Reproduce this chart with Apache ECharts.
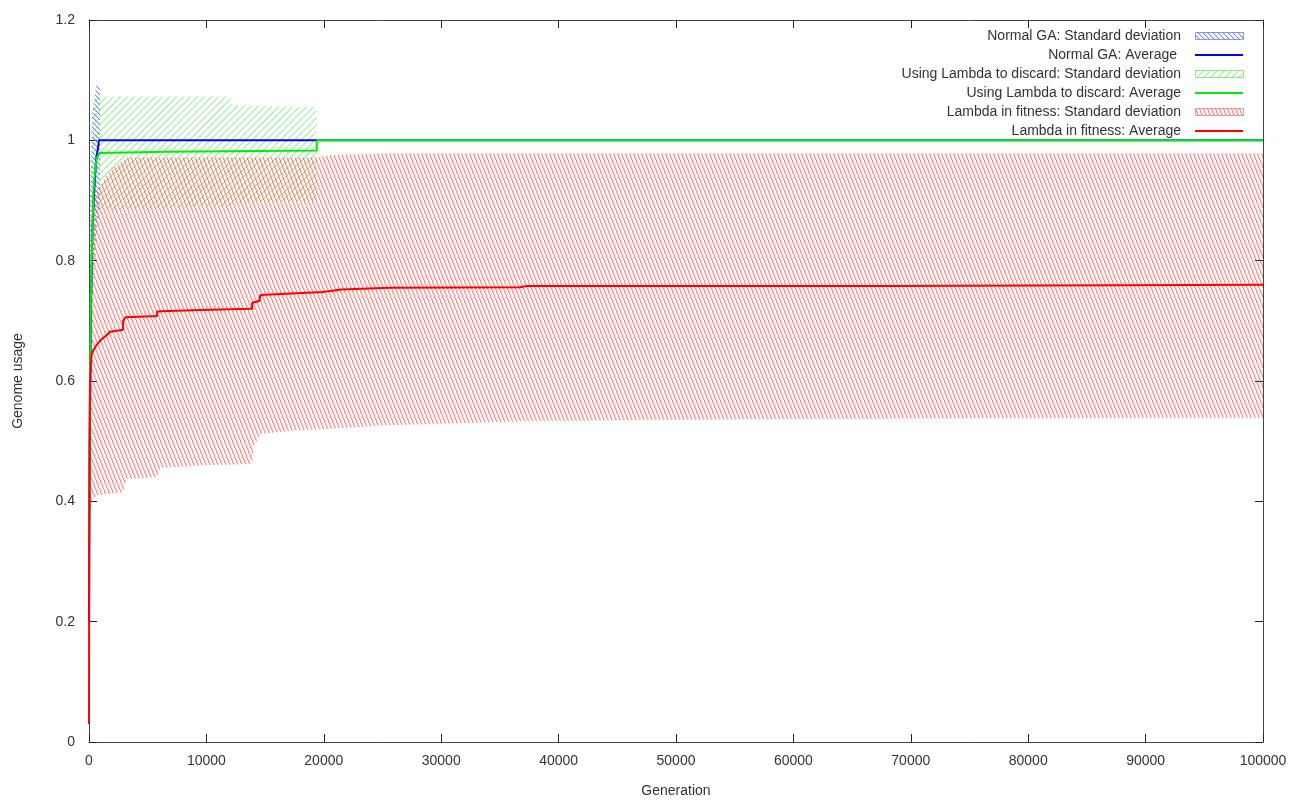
<!DOCTYPE html>
<html>
<head>
<meta charset="utf-8">
<style>
  html, body { margin: 0; padding: 0; background: #fff; }
  #chart { width: 1310px; height: 803px; }
</style>
<script src="https://cdn.jsdelivr.net/npm/echarts@6/dist/echarts.min.js"></script>
</head>
<body>
<div id="chart"></div>
<script>
// Genome usage per generation: averages and standard-deviation bands, [generation, value]
const normalAverage = [
  [0, 0.2], [50, 0.45], [150, 0.7], [300, 0.856], [400, 0.9], [600, 0.967],
  [750, 0.985], [850, 1.0], [100000, 1.0]
];
const normalStdUpper = [
  [0, 0.4], [100, 0.9], [300, 1.05], [650, 1.095], [950, 1.09]
];
const normalStdLower = [
  [0, 0.0], [100, 0.5], [300, 0.75], [600, 0.84], [950, 0.9]
];

const discardAverage = [
  [0, 0.34], [60, 0.55], [150, 0.72], [230, 0.8], [370, 0.91], [510, 0.95],
  [650, 0.97], [900, 0.979], [6500, 0.981], [12000, 0.982], [19400, 0.983],
  [19400, 1.0], [100000, 1.0]
];
const discardStdUpper = [
  [0, 0.5], [100, 0.95], [250, 1.045], [500, 1.07], [1000, 1.073],
  [12000, 1.073], [12200, 1.058], [19400, 1.055]
];
const discardStdLower = [
  [0, 0.2], [100, 0.45], [250, 0.6], [400, 0.75], [700, 0.85], [1000, 0.885],
  [12000, 0.89], [12200, 0.896], [19400, 0.9]
];

const fitnessAverage = [
  [0, 0.03], [20, 0.35], [50, 0.5], [85, 0.6], [150, 0.625], [230, 0.645],
  [400, 0.652], [650, 0.66], [1000, 0.668], [1500, 0.676], [1800, 0.682],
  [2900, 0.685], [2900, 0.7], [3100, 0.706], [5800, 0.708], [5800, 0.715],
  [6100, 0.716], [9500, 0.718], [13900, 0.72], [13900, 0.73], [14500, 0.733],
  [14600, 0.743], [17700, 0.746], [19900, 0.748], [21500, 0.752],
  [25600, 0.755], [36700, 0.756], [37300, 0.758], [68200, 0.758],
  [68200, 0.76], [100000, 0.76]
];
const fitnessStdUpper = [
  [0, 0.35], [50, 0.75], [100, 0.82], [300, 0.9], [800, 0.92], [1800, 0.95],
  [3200, 0.972], [19400, 0.972], [21000, 0.976], [25000, 0.978],
  [100000, 0.978]
];
const fitnessStdLower = [
  [0, 0.2], [50, 0.3], [100, 0.38], [200, 0.4], [700, 0.41], [2900, 0.415],
  [3200, 0.437], [5800, 0.44], [6050, 0.456], [10000, 0.46], [13900, 0.462],
  [14000, 0.49], [14600, 0.512], [17700, 0.518], [20000, 0.52],
  [25000, 0.526], [37000, 0.533], [60000, 0.537], [100000, 0.539]
];

const xTicks = { min: 0, max: 100000, step: 10000 };
const yTicks = { min: 0, max: 1.2, step: 0.2 };

const seriesNames = [
  'Normal GA: Standard deviation',
  'Normal GA: Average ',
  'Using Lambda to discard: Standard deviation',
  'Using Lambda to discard: Average',
  'Lambda in fitness: Standard deviation',
  'Lambda in fitness: Average'
];

// Hatch tiles: one stair-stepped line per tile, with a softer neighbour pixel.
// dir 'back' draws "\" lines, 'fwd' draws "/" lines.
function hatchCanvas(w, h, rgb, alpha, soft, dir) {
  const c = document.createElement('canvas');
  c.width = w; c.height = h;
  const ctx = c.getContext('2d');
  const col = a => 'rgba(' + rgb.join(',') + ',' + a + ')';
  for (let y = 0; y < h; y++) {
    let x = Math.floor(y * w / h) % w;
    if (dir === 'fwd') x = w - 1 - x;
    ctx.fillStyle = col(alpha);
    ctx.fillRect(x, y, 1, 1);
    if (soft > 0) {
      ctx.fillStyle = col(soft);
      ctx.fillRect((x + 1) % w, y, 1, 1);
    }
  }
  return c;
}
function pattern(canvas) {
  return { image: canvas, repeat: 'repeat' };
}

const blueTile = hatchCanvas(5, 5, [90, 90, 255], 0.8, 0.2, 'back');
const greenTile = hatchCanvas(7, 7, [40, 225, 40], 0.45, 0.25, 'fwd');
const redTile = hatchCanvas(4, 10, [255, 70, 70], 0.6, 0.25, 'back');

function bandSeries(name, upper, lower, tile) {
  return {
    name: name,
    type: 'custom',
    data: [[0, 0]],
    silent: true,
    animation: false,
    renderItem: function (params, api) {
      const pts = upper.map(p => api.coord(p))
        .concat(lower.slice().reverse().map(p => api.coord(p)));
      return {
        type: 'polygon',
        shape: { points: pts },
        style: { fill: pattern(tile), stroke: null }
      };
    }
  };
}

function lineSeries(name, data, color) {
  return {
    name: name,
    type: 'line',
    data: data,
    showSymbol: false,
    animation: false,
    silent: true,
    lineStyle: { color: color, width: 2 }
  };
}

const FONT = '"Liberation Sans", Arial, sans-serif';
const GRID = { left: 89, right: 47, top: 20, bottom: 60 };

// Legend drawn in the top-right corner of the plot
const legendItems = [
  { name: seriesNames[0], kind: 'band', tile: blueTile, stroke: 'rgba(100,100,255,0.7)' },
  { name: seriesNames[1], kind: 'line', color: '#0000ff' },
  { name: seriesNames[2], kind: 'band', tile: greenTile, stroke: 'rgba(60,225,60,0.6)' },
  { name: seriesNames[3], kind: 'line', color: '#00ee00' },
  { name: seriesNames[4], kind: 'band', tile: redTile, stroke: 'rgba(255,80,80,0.6)' },
  { name: seriesNames[5], kind: 'line', color: '#ff0000' }
];
const legendGraphics = [];
legendItems.forEach((it, i) => {
  const cy = 36 + i * 19;
  legendGraphics.push({
    type: 'text', silent: true,
    style: {
      text: it.name, x: 1181, y: cy, align: 'right', verticalAlign: 'middle',
      fill: '#333', font: '14px ' + FONT
    }
  });
  if (it.kind === 'band') {
    legendGraphics.push({
      type: 'rect', silent: true,
      shape: { x: 1195.5, y: cy - 3.5, width: 48, height: 7 },
      style: { fill: pattern(it.tile), stroke: it.stroke, lineWidth: 1 }
    });
  } else {
    legendGraphics.push({
      type: 'line', silent: true,
      shape: { x1: 1195, y1: cy, x2: 1243, y2: cy },
      style: { stroke: it.color, lineWidth: 2 }
    });
  }
});

const axisLine = { show: true, onZero: false, lineStyle: { color: '#444', width: 1 } };
const axisTick = { show: true, inside: true, length: 8, lineStyle: { color: '#222' } };

const chart = echarts.init(document.getElementById('chart'), null, { renderer: 'canvas' });
chart.setOption({
  backgroundColor: '#fff',
  animation: false,
  grid: GRID,
  textStyle: { fontFamily: FONT },
  xAxis: [
    {
      type: 'value', position: 'bottom',
      min: xTicks.min, max: xTicks.max, interval: xTicks.step,
      axisLine: axisLine, axisTick: axisTick, splitLine: { show: false },
      axisLabel: { color: '#333', fontSize: 14, margin: 12, formatter: v => String(v) },
      name: 'Generation', nameLocation: 'middle', nameGap: 42,
      nameTextStyle: { color: '#333', fontSize: 14 }
    },
    {
      type: 'value', position: 'top',
      min: xTicks.min, max: xTicks.max, interval: xTicks.step,
      axisLine: axisLine, axisTick: axisTick, splitLine: { show: false },
      axisLabel: { show: false }
    }
  ],
  yAxis: [
    {
      type: 'value', position: 'left',
      min: yTicks.min, max: yTicks.max, interval: yTicks.step,
      axisLine: axisLine, axisTick: axisTick, splitLine: { show: false },
      axisLabel: { color: '#333', fontSize: 14, margin: 14,
        formatter: v => String(Math.round(v * 10) / 10) },
      name: 'Genome usage', nameLocation: 'middle', nameGap: 64, nameRotate: 90,
      nameTextStyle: { color: '#333', fontSize: 14 }
    },
    {
      type: 'value', position: 'right',
      min: yTicks.min, max: yTicks.max, interval: yTicks.step,
      axisLine: axisLine, axisTick: axisTick, splitLine: { show: false },
      axisLabel: { show: false }
    }
  ],
  graphic: legendGraphics,
  series: [
    bandSeries(seriesNames[0], normalStdUpper, normalStdLower, blueTile),
    lineSeries(seriesNames[1], normalAverage, '#0000ff'),
    bandSeries(seriesNames[2], discardStdUpper, discardStdLower, greenTile),
    lineSeries(seriesNames[3], discardAverage, '#00ee00'),
    bandSeries(seriesNames[4], fitnessStdUpper, fitnessStdLower, redTile),
    lineSeries(seriesNames[5], fitnessAverage, '#ff0000')
  ]
});
</script>
</body>
</html>
